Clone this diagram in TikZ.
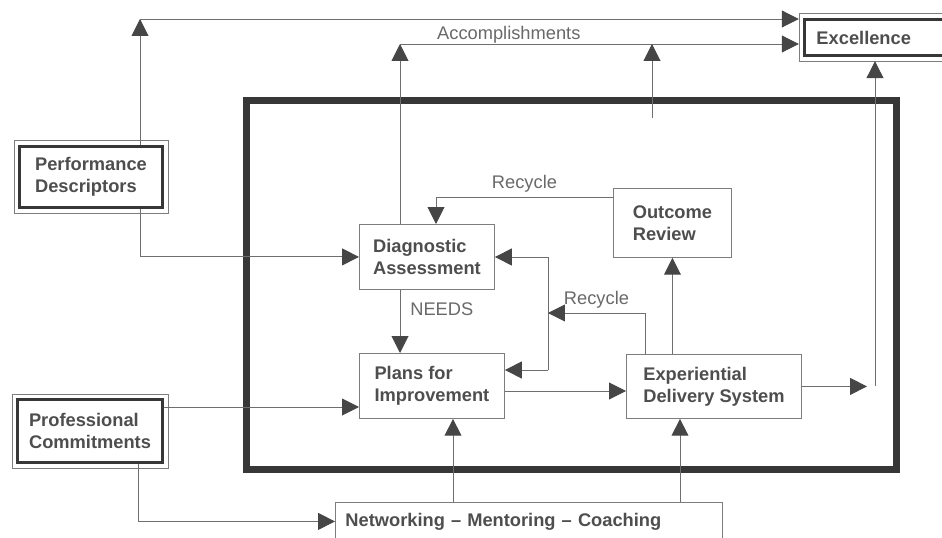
\documentclass[tikz,border=0pt]{standalone}
\usepackage{fontspec}
\setmainfont{Liberation Sans}
\usetikzlibrary{arrows.meta, calc}
\definecolor{inkGray}{RGB}{78,78,78}
\definecolor{noteGray}{RGB}{105,105,105}
\definecolor{lineGray}{RGB}{110,110,110}
\definecolor{tipGray}{RGB}{70,70,70}
\definecolor{boxGray}{RGB}{125,125,125}
\definecolor{frameGray}{RGB}{55,55,55}
\newcommand{\boxfont}{\fontsize{13}{15.6}\selectfont\bfseries}
\newcommand{\notefont}{\fontsize{13}{15.6}\selectfont}
\tikzstyle{stage} = [rectangle, draw=boxGray, line width=0.6pt, fill=white, text=inkGray, font=\boxfont, align=left, anchor=north west, inner sep=0pt]
\tikzstyle{heavy} = [rectangle, draw=frameGray, line width=2.1pt, fill=white, text=inkGray, font=\boxfont, align=left, anchor=north west, inner sep=0pt]
\tikzstyle{flow} = [draw=lineGray, line width=0.7pt, -{Triangle[length=12pt, width=12pt, color=tipGray]}]
\tikzstyle{note} = [text=noteGray, font=\notefont, inner sep=1pt]
\begin{document}
\begin{tikzpicture}[x=0.025cm, y=-0.025cm]
\useasboundingbox (0,0) rectangle (942,538);
\clip (0,0) rectangle (942,538);

% the programme frame
\node (frame) [draw=frameGray, line width=5pt, minimum width=16.225cm, minimum height=9.2cm, inner sep=0pt] at (571.5,285) {};

% boxes
\node (perf) [heavy, minimum width=3.575cm, minimum height=1.525cm] at (18,145) {Performance\\Descriptors};
\node (prof) [heavy, minimum width=3.625cm, minimum height=1.575cm] at (16,398) {Professional\\Commitments};
\node (excel) [heavy, text width=3.15cm, inner xsep=0.3cm, minimum height=0.9cm] at (803,18) {Excellence};
\node (diag) [stage, minimum width=3.375cm, minimum height=1.625cm] at (359,224) {Diagnostic\\Assessment};
\node (plans) [stage, minimum width=3.625cm, minimum height=1.625cm] at (359,353) {Plans for\\Improvement};
\node (outc) [stage, minimum width=2.95cm, minimum height=1.725cm] at (613,188) {Outcome\\Review};
\node (eds) [stage, minimum width=4.375cm, minimum height=1.6cm] at (626,354) {Experiential\\Delivery System};
\node (net) [stage, text width=9.175cm, inner xsep=0.25cm, minimum height=0.95cm] at (335,502) {Networking -- Mentoring -- Coaching};

% thin outer rule round the heavy boxes
\foreach \n in {perf,prof,excel}
  \draw[boxGray, line width=0.6pt] ($(\n.south west)+(-2.9pt,-2.9pt)$) rectangle ($(\n.north east)+(2.9pt,2.9pt)$);

% bends and branch points
\coordinate (tl) at (140,19);
\coordinate (acc) at (400,44);
\coordinate (mid) at (652,118);
\coordinate (rv) at (875,388);
\coordinate (commit) at (250,407);
\coordinate (pfoot) at (138,521);
\coordinate (up1) at (453,450);
\coordinate (up2) at (680,450);
\coordinate (flowy) at (560,391);
\coordinate (rec1) at (436,197);
\coordinate (bartop) at (548,257);
\coordinate (barbot) at (548,370);
\coordinate (rec2) at (645,313);

% top lines to Excellence
\draw[flow] (tl |- perf.north) -- (tl);
\draw[flow, shorten >=3pt] (tl) -- (tl -| excel.west);
\draw[flow] (acc |- diag.north) -- (acc);
\draw[flow, shorten >=3pt] (acc) -- (acc -| excel.west) node[note, pos=0.27, above=-1pt] {Accomplishments};
\draw[flow] (mid) -- (mid |- acc);
\draw[flow, shorten >=0.2cm] (eds.east) -- (eds.east -| rv);
\draw[flow, shorten >=3pt] (eds.east -| rv) -- (rv |- excel.south);

% inputs
\draw[flow] (tl |- perf.south) |- (diag.west);
\draw[flow] (prof.east |- commit) -- (plans.west |- commit);
\draw[flow] (pfoot |- prof.south) |- (net.west);
\draw[flow] (up1 |- net.north) -- (up1 |- plans.south);
\draw[flow] (up2 |- net.north) -- (up2 |- eds.south);

% inner cycle
\draw[flow] (diag.south -| acc) -- (plans.north -| acc) node[note, pos=0.3, right=6pt] {NEEDS};
\draw[flow] (plans.east |- flowy) -- (eds.west |- flowy);
\draw[flow] (eds.north -| outc.south) -- (outc.south);
\draw[flow] (outc.west |- rec1) -- (rec1) node[note, midway, above=2pt] {Recycle} -- (rec1 |- diag.north);
\draw[lineGray, line width=0.7pt] (bartop) -- (barbot);
\draw[flow] (bartop) -- (bartop -| diag.east);
\draw[flow] (barbot) -- (barbot -| plans.east);
\draw[flow] (rec2 |- eds.north) -- (rec2) -- (rec2 -| bartop) node[note, midway, above=2pt] {Recycle};
\end{tikzpicture}
\end{document}
